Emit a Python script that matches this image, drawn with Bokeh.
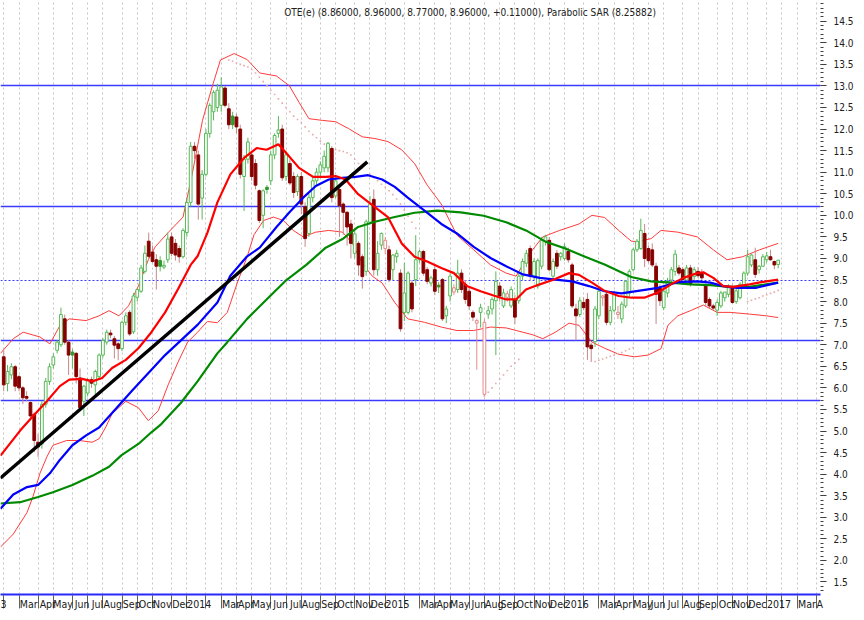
import numpy as np
import pandas as pd
from bokeh.plotting import figure
from bokeh.models import Range1d, FixedTicker, Label, ColumnDataSource, CustomJSTickFormatter, PrintfTickFormatter
from bokeh.embed import file_html
from bokeh.resources import INLINE

# ---------------- data (weekly bars, index 0 = 2013-01-04) ----------------
first_bar = 4
open_ = [6.72, 6.10, 6.30, 6.49, 6.26, 6.00, 5.80, 5.66, 5.39, 4.74,
         4.70, 5.62, 6.15, 6.53, 6.87, 7.00, 7.60, 7.06, 6.83, 6.80,
         6.23, 5.69, 5.88, 6.19, 6.07, 6.26, 6.76, 7.06, 7.27, 7.14,
         7.02, 6.91, 7.52, 7.75, 7.30, 8.10, 8.24, 8.70, 9.40, 9.15,
         8.97, 8.95, 8.80, 8.97, 9.50, 9.35, 9.23, 9.04, 9.60, 10.30,
         11.60, 11.40, 10.40, 10.95, 11.90, 12.40, 12.50, 12.55, 12.95, 12.47,
         12.30, 12.28, 12.00, 10.90, 11.30, 11.40, 11.20, 10.57, 10.00, 10.65,
         10.80, 11.40, 11.90, 12.00, 10.90, 11.20, 10.90, 10.55, 10.90, 10.20,
         9.58, 10.41, 10.80, 11.00, 11.10, 11.10, 11.55, 10.45, 10.60, 10.26,
         10.07, 9.80, 9.12, 9.35, 9.04, 8.70, 9.84, 10.37, 8.74, 9.31,
         9.23, 9.20, 8.74, 9.04, 8.66, 7.75, 7.75, 8.43, 8.51, 8.97,
         9.16, 8.74, 8.43, 8.74, 8.38, 8.51, 7.67, 8.13, 8.22, 8.28,
         8.66, 8.40, 8.24, 7.75, 7.50, 7.75, 5.85, 7.71, 7.83, 8.02,
         8.36, 7.90, 8.10, 7.90, 8.05, 8.02, 8.59, 8.89, 9.23, 8.59,
         8.36, 8.82, 9.39, 9.42, 8.59, 9.12, 9.04, 9.00, 9.16, 8.85,
         7.83, 7.70, 7.98, 8.05, 6.99, 7.07, 7.67, 8.09, 8.17, 7.52,
         7.80, 7.70, 7.60, 7.90, 8.20, 8.74, 9.20, 9.23, 9.58, 9.23,
         9.20, 8.82, 8.32, 7.86, 8.20, 8.50, 8.70, 8.78, 8.74, 8.50,
         8.78, 8.58, 8.70, 8.66, 8.36, 8.05, 7.90, 7.80, 7.90, 8.09,
         8.17, 8.32, 8.00, 8.09, 8.36, 8.66, 8.85, 8.97, 8.74, 8.82,
         8.97, 9.04, 8.93, 8.86]
high = [6.87, 6.53, 6.57, 6.53, 6.30, 6.04, 5.92, 5.69, 5.43, 4.93,
        5.69, 6.23, 6.57, 6.80, 7.10, 7.86, 7.70, 7.10, 6.90, 6.83,
        6.45, 6.07, 6.23, 6.26, 6.42, 6.80, 7.15, 7.35, 7.35, 7.20,
        7.06, 7.56, 7.75, 7.80, 8.20, 8.30, 8.85, 9.30, 9.60, 9.30,
        9.10, 9.05, 8.95, 9.60, 9.60, 9.45, 9.30, 9.70, 10.40, 11.70,
        11.70, 11.50, 11.05, 12.00, 12.60, 12.90, 13.05, 13.20, 13.00, 12.60,
        12.40, 12.35, 12.10, 11.40, 11.80, 11.50, 11.30, 10.60, 10.60, 10.70,
        11.50, 11.90, 12.30, 12.10, 11.50, 11.30, 11.00, 10.95, 11.00, 10.30,
        10.50, 10.90, 11.10, 11.25, 11.50, 11.70, 11.60, 10.90, 10.65, 10.30,
        10.10, 9.90, 9.70, 9.40, 9.10, 9.90, 10.45, 10.60, 9.40, 9.60,
        9.50, 9.30, 9.10, 9.20, 8.75, 8.90, 8.70, 8.50, 9.54, 9.20,
        9.20, 8.80, 8.60, 8.85, 8.45, 8.55, 7.90, 8.65, 8.40, 8.97,
        8.75, 8.50, 8.35, 7.80, 7.60, 7.95, 7.60, 7.90, 8.10, 8.70,
        8.45, 8.30, 8.25, 8.35, 8.15, 8.65, 9.00, 9.20, 9.30, 9.00,
        9.00, 9.50, 9.55, 9.50, 9.00, 9.20, 9.15, 9.35, 9.25, 8.90,
        7.95, 8.10, 8.10, 8.20, 7.05, 7.90, 8.30, 8.15, 8.25, 7.90,
        8.25, 7.90, 8.00, 8.50, 8.75, 9.25, 9.45, 9.92, 9.80, 9.30,
        9.35, 8.90, 8.40, 8.35, 8.55, 8.80, 9.20, 8.85, 8.80, 8.85,
        8.85, 8.80, 8.80, 8.75, 8.40, 8.10, 7.95, 8.05, 8.25, 8.20,
        8.40, 8.40, 8.30, 8.45, 8.70, 9.20, 9.10, 9.25, 8.85, 9.10,
        9.15, 9.20, 8.95, 8.96]
low = [5.92, 5.92, 6.20, 5.92, 5.92, 5.62, 5.69, 5.31, 4.51, 4.40,
       4.59, 5.54, 6.07, 6.45, 6.80, 6.95, 7.00, 6.30, 6.45, 6.10,
       5.50, 5.35, 5.80, 6.00, 5.85, 6.20, 6.70, 7.00, 7.15, 6.68,
       6.64, 6.85, 7.45, 7.20, 7.25, 8.00, 8.20, 8.65, 9.00, 8.90,
       8.28, 8.70, 8.75, 8.90, 9.05, 8.95, 8.90, 9.00, 9.50, 10.20,
       11.30, 9.90, 9.90, 10.90, 11.80, 12.20, 12.40, 12.40, 12.50, 12.00,
       12.00, 11.90, 10.85, 10.10, 11.20, 10.80, 10.60, 9.82, 9.70, 10.50,
       10.70, 11.30, 11.80, 10.80, 10.80, 10.70, 10.40, 10.45, 10.03, 9.27,
       9.50, 10.30, 10.70, 10.90, 11.00, 11.00, 10.30, 10.40, 9.50, 9.55,
       9.30, 9.00, 9.00, 8.60, 8.30, 8.60, 9.80, 8.60, 8.60, 9.20,
       9.10, 8.45, 8.50, 8.90, 7.30, 7.55, 7.70, 7.75, 8.36, 8.90,
       8.60, 8.40, 8.35, 8.15, 8.20, 7.55, 7.50, 8.00, 8.15, 8.20,
       8.20, 7.95, 7.80, 7.55, 6.42, 7.40, 5.81, 7.60, 7.70, 6.76,
       8.00, 7.85, 8.00, 7.85, 7.48, 7.95, 8.50, 8.80, 8.50, 8.50,
       8.30, 8.75, 9.30, 8.70, 8.50, 8.75, 8.95, 8.95, 8.90, 7.85,
       7.10, 7.65, 7.80, 6.65, 6.60, 6.95, 7.60, 7.90, 7.45, 7.45,
       7.75, 7.60, 7.50, 7.85, 8.10, 8.70, 9.15, 9.20, 8.80, 8.90,
       8.80, 7.48, 7.90, 7.80, 8.10, 8.45, 8.60, 8.60, 8.45, 8.45,
       8.35, 8.50, 8.55, 8.50, 7.90, 7.85, 7.80, 7.67, 7.85, 8.00,
       8.10, 7.95, 7.95, 8.05, 8.30, 8.60, 8.80, 8.55, 8.65, 8.80,
       8.90, 8.95, 8.75, 8.77]
close = [6.07, 6.38, 6.49, 6.04, 6.00, 5.77, 5.76, 5.35, 4.78, 4.63,
         5.62, 6.15, 6.49, 6.72, 7.06, 7.70, 7.06, 6.76, 6.76, 6.26,
         5.54, 6.04, 6.19, 6.11, 6.38, 6.76, 7.10, 7.29, 7.23, 6.99,
         6.91, 7.52, 7.67, 7.25, 8.13, 8.28, 8.78, 9.12, 9.05, 8.93,
         8.82, 8.82, 8.84, 9.45, 9.12, 9.08, 9.04, 9.65, 10.30, 11.60,
         11.50, 10.26, 10.95, 11.90, 12.55, 12.85, 12.90, 12.98, 12.55, 12.10,
         12.10, 12.05, 10.95, 11.30, 11.70, 10.90, 10.70, 9.88, 10.57, 10.60,
         11.40, 11.85, 11.98, 10.87, 11.40, 10.75, 10.53, 10.90, 10.26, 9.46,
         10.41, 10.80, 11.00, 11.17, 11.37, 11.67, 10.41, 10.80, 10.22, 10.07,
         9.73, 9.35, 9.57, 8.85, 8.58, 9.85, 10.26, 8.74, 9.12, 9.58,
         9.42, 8.51, 9.08, 9.12, 7.37, 8.20, 8.66, 7.83, 8.97, 9.16,
         8.66, 8.47, 8.55, 8.24, 8.34, 7.60, 7.83, 8.59, 8.32, 8.66,
         8.28, 8.05, 7.90, 7.64, 7.56, 7.86, 7.52, 7.79, 8.05, 8.47,
         8.13, 8.20, 8.18, 8.28, 7.64, 8.59, 8.93, 9.12, 8.59, 8.93,
         8.95, 9.42, 9.50, 8.74, 8.93, 8.82, 9.12, 9.27, 8.97, 7.90,
         7.67, 8.02, 7.86, 6.95, 6.91, 7.83, 8.24, 8.13, 7.52, 7.79,
         8.17, 7.75, 7.94, 8.47, 8.70, 9.20, 9.40, 9.65, 9.00, 8.95,
         8.85, 8.17, 8.02, 8.24, 8.47, 8.74, 9.10, 8.66, 8.51, 8.78,
         8.40, 8.74, 8.60, 8.55, 7.98, 7.90, 7.85, 7.98, 8.20, 8.22,
         8.32, 7.98, 8.25, 8.40, 8.66, 9.04, 9.08, 8.63, 8.82, 9.04,
         9.06, 8.97, 8.85, 8.96]

# indicator lines (x = bar index, y = price)
red_ma_x = [3.15, 8.3, 11.7, 15.3, 18.7, 21.2, 24.6, 27.2, 29.8, 32.4, 36.0, 39.3, 42.7, 46.3, 49.7,
            53.0, 54.8, 57.4, 60.0, 63.4, 67.0, 70.3, 72.9, 76.0, 78.1, 81.4, 85.1, 88.4, 91.0, 93.6,
            96.9, 101.3, 104.7, 108.3, 111.7, 115.0, 118.7, 122.0, 125.4, 129.0, 132.4, 135.7, 138.3,
            140.9, 144.5, 147.9, 152.2, 154.8, 158.2, 161.5, 165.2, 168.5, 171.9, 175.5, 178.9, 182.2,
            185.8, 187.4, 190.0, 192.6, 195.2, 199.5, 203.9, 207.0]
red_ma_y = [4.43, 5.01, 5.35, 5.69, 6.04, 6.19, 6.21, 6.15, 6.23, 6.46, 6.65, 6.92, 7.29, 7.75, 8.29,
            8.85, 9.05, 9.60, 10.30, 10.95, 11.33, 11.56, 11.52, 11.65, 11.44, 11.10, 10.89, 10.89, 10.91, 10.83,
            10.49, 10.19, 9.96, 9.35, 9.04, 8.93, 8.78, 8.66, 8.36, 8.24, 8.14, 8.05, 8.05,
            8.28, 8.40, 8.50, 8.66, 8.62, 8.44, 8.25, 8.13, 8.09, 8.09, 8.21, 8.40, 8.55,
            8.66, 8.68, 8.55, 8.36, 8.34, 8.40, 8.47, 8.51]
blue_ma_x = [3.15, 6.5, 10.1, 13.0, 16.1, 18.7, 22.0, 25.6, 29.0, 37.5, 46.3, 54.8, 60.0, 63.4, 67.8,
             71.1, 75.5, 78.9, 82.5, 85.8, 89.2, 92.8, 96.2, 99.5, 103.2, 106.5, 109.9, 114.3, 118.7, 122.8,
             127.2, 131.6, 135.7, 140.1, 144.5, 148.6, 153.0, 157.4, 161.5, 165.9, 170.3, 175.5, 180.7,
             185.8, 189.2, 192.6, 196.2, 201.3, 207.0]
blue_ma_y = [3.20, 3.53, 3.70, 3.75, 4.02, 4.33, 4.67, 4.90, 5.08, 5.92, 6.76, 7.46, 7.98, 8.60, 9.05,
             9.25, 9.73, 10.07, 10.41, 10.68, 10.83, 10.87, 10.89, 10.93, 10.83, 10.66, 10.41, 10.11, 9.80, 9.58,
             9.27, 9.01, 8.82, 8.63, 8.55, 8.51, 8.47, 8.36, 8.24, 8.19, 8.25, 8.32, 8.45,
             8.47, 8.44, 8.36, 8.32, 8.32, 8.44]
green_ma_x = [3.15, 8.3, 13.0, 16.9, 22.0, 27.2, 31.6, 34.9, 39.3, 42.7, 45.3, 50.4, 54.8, 60.0, 62.6,
              67.8, 72.9, 78.1, 83.3, 88.4, 92.8, 96.9, 101.3, 106.5, 111.7, 117.6, 123.8, 129.8, 135.7,
              140.9, 146.0, 151.2, 156.4, 161.5, 168.5, 173.7, 178.9, 184.0, 189.2, 194.4, 199.5, 203.9, 207.0]
green_ma_y = [3.32, 3.35, 3.47, 3.58, 3.75, 3.96, 4.17, 4.44, 4.70, 4.97, 5.16, 5.65, 6.15, 6.80, 7.06,
              7.60, 8.05, 8.50, 8.85, 9.25, 9.45, 9.73, 9.85, 9.96, 10.06, 10.11, 10.07, 9.99, 9.84,
              9.65, 9.39, 9.23, 9.04, 8.86, 8.57, 8.47, 8.44, 8.40, 8.38, 8.34, 8.34, 8.40, 8.44]
bb_up_x = [3.15, 6.5, 9.1, 13.5, 16.1, 18.7, 21.2, 25.6, 29.0, 31.6, 34.2, 36.7, 39.3, 41.9, 43.7,
           47.1, 51.0, 53.5, 56.1, 58.7, 60.8, 64.4, 67.8, 71.1, 75.5, 78.9, 81.4, 84.0, 87.6, 91.0,
           94.4, 98.0, 101.3, 104.7, 108.3, 111.7, 115.0, 118.7, 122.8, 127.2, 131.6, 135.7, 138.3, 141.9, 145.3,
           149.7, 154.8, 158.2, 161.5, 165.2, 168.5, 170.3, 173.7, 176.3, 180.7, 185.8, 190.0, 193.6, 197.7, 202.1, 207.0]
bb_up_y = [6.80, 7.14, 7.29, 7.18, 7.02, 7.44, 7.60, 7.56, 7.67, 7.79, 7.67, 7.90, 8.36, 8.97, 9.27,
           9.60, 9.96, 11.00, 12.20, 13.00, 13.60, 13.75, 13.61, 13.30, 13.23, 13.00, 12.62, 12.24, 12.20, 12.17,
           12.01, 11.82, 11.78, 11.71, 11.52, 11.20, 10.70, 10.26, 9.54, 9.20, 8.85, 8.66, 8.59, 9.12, 9.50,
           9.65, 9.80, 10.00, 9.95, 9.65, 9.40, 9.39, 9.46, 9.65, 9.61, 9.50, 9.20, 8.97, 9.04, 9.20, 9.35]
bb_lo_x = [3.15, 6.5, 10.1, 11.7, 13.5, 15.3, 16.9, 20.5, 23.8, 27.2, 29.0, 30.8, 32.4, 36.0, 39.3,
           41.9, 44.5, 47.1, 49.7, 52.2, 54.8, 57.4, 60.0, 62.6, 65.2, 67.8, 69.6, 72.1, 74.7, 77.3,
           79.9, 82.5, 85.8, 89.2, 92.8, 95.4, 98.0, 100.6, 103.2, 106.5, 109.9, 114.3, 118.7, 122.8, 127.2,
           131.6, 135.7, 140.1, 142.7, 145.3, 148.6, 152.2, 154.8, 158.2, 161.5, 165.2, 169.3, 172.9, 176.3, 178.1,
           180.7, 184.0, 187.4, 191.0, 194.4, 199.5, 203.9, 207.0]
bb_lo_y = [2.31, 2.61, 3.11, 3.49, 4.02, 4.40, 4.67, 4.78, 4.78, 4.74, 4.82, 5.10, 5.40, 5.69, 5.54,
           5.24, 5.47, 6.07, 6.60, 7.06, 7.29, 7.54, 7.51, 7.75, 8.43, 9.04, 9.55, 9.88, 9.96, 9.88,
           9.65, 9.50, 9.61, 9.65, 9.61, 9.35, 8.89, 8.59, 8.43, 7.98, 7.60, 7.52, 7.41, 7.33, 7.33,
           7.41, 7.39, 7.29, 7.23, 7.14, 7.29, 7.50, 7.45, 7.06, 6.92, 6.78, 6.72, 6.76, 6.91, 7.45,
           7.67, 7.79, 7.92, 7.75, 7.75, 7.71, 7.67, 7.63]
# parabolic SAR dots (visible runs only)
sar_x = list(range(63, 99)) + list(range(100, 113)) + list(range(130, 140)) \
        + list(range(159, 170)) + list(range(199, 208))
sar_y = [13.60, 13.57, 13.53, 13.50, 13.47, 13.44, 13.38, 13.30, 13.20, 13.10, 13.00, 12.90,
         12.80, 12.70, 12.60, 12.50, 12.40, 12.30, 12.22, 12.15, 12.05, 11.95, 11.87, 11.80,
         11.72, 11.65, 11.60, 11.55, 11.52, 11.50, 11.48, 11.45, 11.40, 11.30, 11.20, 11.10,
         10.95, 10.87, 10.80, 10.72, 10.65, 10.57, 10.48, 10.38, 10.26, 10.12, 9.98, 9.84, 9.70,
         5.81, 5.90, 6.00, 6.10, 6.20, 6.30, 6.40, 6.50, 6.58, 6.66,
         6.61, 6.64, 6.67, 6.70, 6.73, 6.76, 6.79, 6.82, 6.86, 6.90, 6.93,
         8.00, 8.03, 8.06, 8.09, 8.13, 8.16, 8.19, 8.22, 8.26]
trend_x = [3.15, 99.3]
trend_y = [3.91, 11.24]
level_lines = [13.0, 10.2, 7.1, 5.7]
dotted_level = [8.5]
y_tick_values = [1.5 + 0.5 * i for i in range(27)]
month_names = ["Jan", "Feb", "Mar", "Apr", "May", "Jun", "Jul", "Aug", "Sep", "Oct", "Nov", "Dec"]
title_text = "OTE(e) (8.86000, 8.96000, 8.77000, 8.96000, +0.11000), Parabolic SAR (8.25882)"

# ---------------- layout ----------------
X0, X1 = 3.15, 218.1
Y0, Y1 = 1.21, 14.98
W, H = 856, 612
RIGHT, BOTTOM = 32, 17
PXB = (W - RIGHT) / (X1 - X0)
FONT = "'Liberation Sans Narrow', 'DejaVu Sans Condensed', 'Liberation Sans', sans-serif"
SEP_LEN = 14

# weekly calendar (Athens exchange closed in July 2015)
bar_dates = pd.date_range("2013-01-04", "2017-04-28", freq="W-FRI")
bar_dates = bar_dates[~((bar_dates.year == 2015) & (bar_dates.month == 7))]
idx = pd.Series(np.arange(len(bar_dates)), index=bar_dates)
firsts = idx.groupby([bar_dates.year, bar_dates.month]).min()

month_starts, lab_pos, lab_txt = [], [], []
for (yy, mm), b in firsts.items():
    month_starts.append(float(b))
    if mm == 2:
        continue
    txt = str(yy) if mm == 1 else month_names[mm - 1]
    if b < X0:
        txt, pos = str(yy)[-1], X0 + 0.75
    else:
        if b >= 217:
            txt = txt[0]
        pos = b + (2.0 + 0.5 * 5.2 * len(txt)) / PXB
        pos = min(pos, X1 - 0.2)
    lab_pos.append(round(pos, 3))
    lab_txt.append(txt)

p = figure(width=W, height=H, x_range=Range1d(X0, X1), y_range=Range1d(Y0, Y1),
           output_backend="svg", toolbar_location=None, y_axis_location="right",
           min_border_left=0, min_border_top=0, min_border_right=RIGHT, min_border_bottom=BOTTOM)
p.outline_line_color = None
p.background_fill_color = "white"
p.border_fill_color = "white"

# grid: dashed verticals at month starts
p.ygrid.visible = False
p.xgrid.ticker = FixedTicker(ticks=month_starts)
p.xgrid.grid_line_color = "#c4c4c4"
p.xgrid.grid_line_dash = "2 3"

# bottom axis: separators are the minor ticks, labels sit beside them
xa = p.xaxis[0]
xa.ticker = FixedTicker(ticks=lab_pos, minor_ticks=month_starts)
xa.formatter = CustomJSTickFormatter(args=dict(pos=lab_pos, labs=lab_txt), code="""
for (let i = 0; i < pos.length; i++) { if (Math.abs(pos[i] - tick) < 1e-6) return labs[i]; }
return "";
""")
xa.major_tick_out = 0
xa.major_tick_in = 0
xa.minor_tick_out = SEP_LEN
xa.minor_tick_in = 0
xa.minor_tick_line_color = "#606060"
xa.axis_line_color = "#2828ff"
xa.axis_line_width = 2
xa.major_label_standoff = 3 - SEP_LEN
xa.major_label_text_font_size = "10.5px"
xa.major_label_text_font = FONT
xa.major_label_text_color = "#202020"

# right axis
ya = p.yaxis[0]
ya.ticker = FixedTicker(ticks=y_tick_values,
                        minor_ticks=[round(1.3 + 0.1 * i, 1) for i in range(137)])
ya.formatter = PrintfTickFormatter(format="%.1f")
ya.axis_line_color = None
ya.major_tick_in = 0
ya.major_tick_out = 6
ya.minor_tick_in = 0
ya.minor_tick_out = 3
ya.major_tick_line_color = "#404040"
ya.minor_tick_line_color = "#404040"
ya.major_label_standoff = 7
ya.major_label_text_font_size = "10px"
ya.major_label_text_font = FONT
ya.major_label_text_color = "#202020"

# horizontal level lines
p.hspan(y=level_lines, line_color="#3a3aff", line_width=1.6)
p.hspan(y=dotted_level, line_color="#3a3aff", line_width=1, line_dash="2 2")

# Bollinger bands
p.line(bb_up_x, bb_up_y, line_color="#ff3b3b", line_width=1)
p.line(bb_lo_x, bb_lo_y, line_color="#ff3b3b", line_width=1)

# parabolic SAR
p.scatter(sar_x, sar_y, marker="square", size=1.6, fill_color="#e9a9a9", line_color=None)

# candles (hollow = close >= open; colour by change vs previous close)
xs = list(range(first_bar, first_bar + len(open_)))
prev = [open_[0]] + close[:-1]
top, bot, fill, line, wick = [], [], [], [], []
for o, c, pc in zip(open_, close, prev):
    t, b = max(o, c), min(o, c)
    if t - b < 0.03:
        t, b = t + 0.015, b - 0.015
    top.append(t)
    bot.append(b)
    if c >= o:
        col = "#58b858" if c > pc else "#e48a8a"
        fill.append("white"); line.append(col); wick.append(col)
    else:
        if c < pc:
            fill.append("#870000"); line.append("#870000"); wick.append("#c48888")
        else:
            fill.append("#2f9a2f"); line.append("#2f9a2f"); wick.append("#58b858")
src = ColumnDataSource(dict(x=xs, high=high, low=low, top=top, bot=bot, fill=fill, line=line, wick=wick))
p.segment(x0="x", y0="low", x1="x", y1="high", color="wick", line_width=1, source=src)
p.vbar(x="x", width=0.72, top="top", bottom="bot", fill_color="fill", line_color="line",
       line_width=1, source=src)

# moving averages
p.line(green_ma_x, green_ma_y, line_color="#008a00", line_width=2.2)
p.line(blue_ma_x, blue_ma_y, line_color="#0000ff", line_width=2.2)
p.line(red_ma_x, red_ma_y, line_color="#ff0000", line_width=2.2)

# trend line
p.line(trend_x, trend_y, line_color="black", line_width=3.5)

# title inside the plot (left-aligned at its start position)
p.add_layout(Label(x=77.5, y=14.71, text=title_text, text_align="left",
                   text_baseline="middle", text_font_size="10px", text_font=FONT,
                   text_color="#202020"))

open("out.html", "w").write(file_html(p, INLINE))
